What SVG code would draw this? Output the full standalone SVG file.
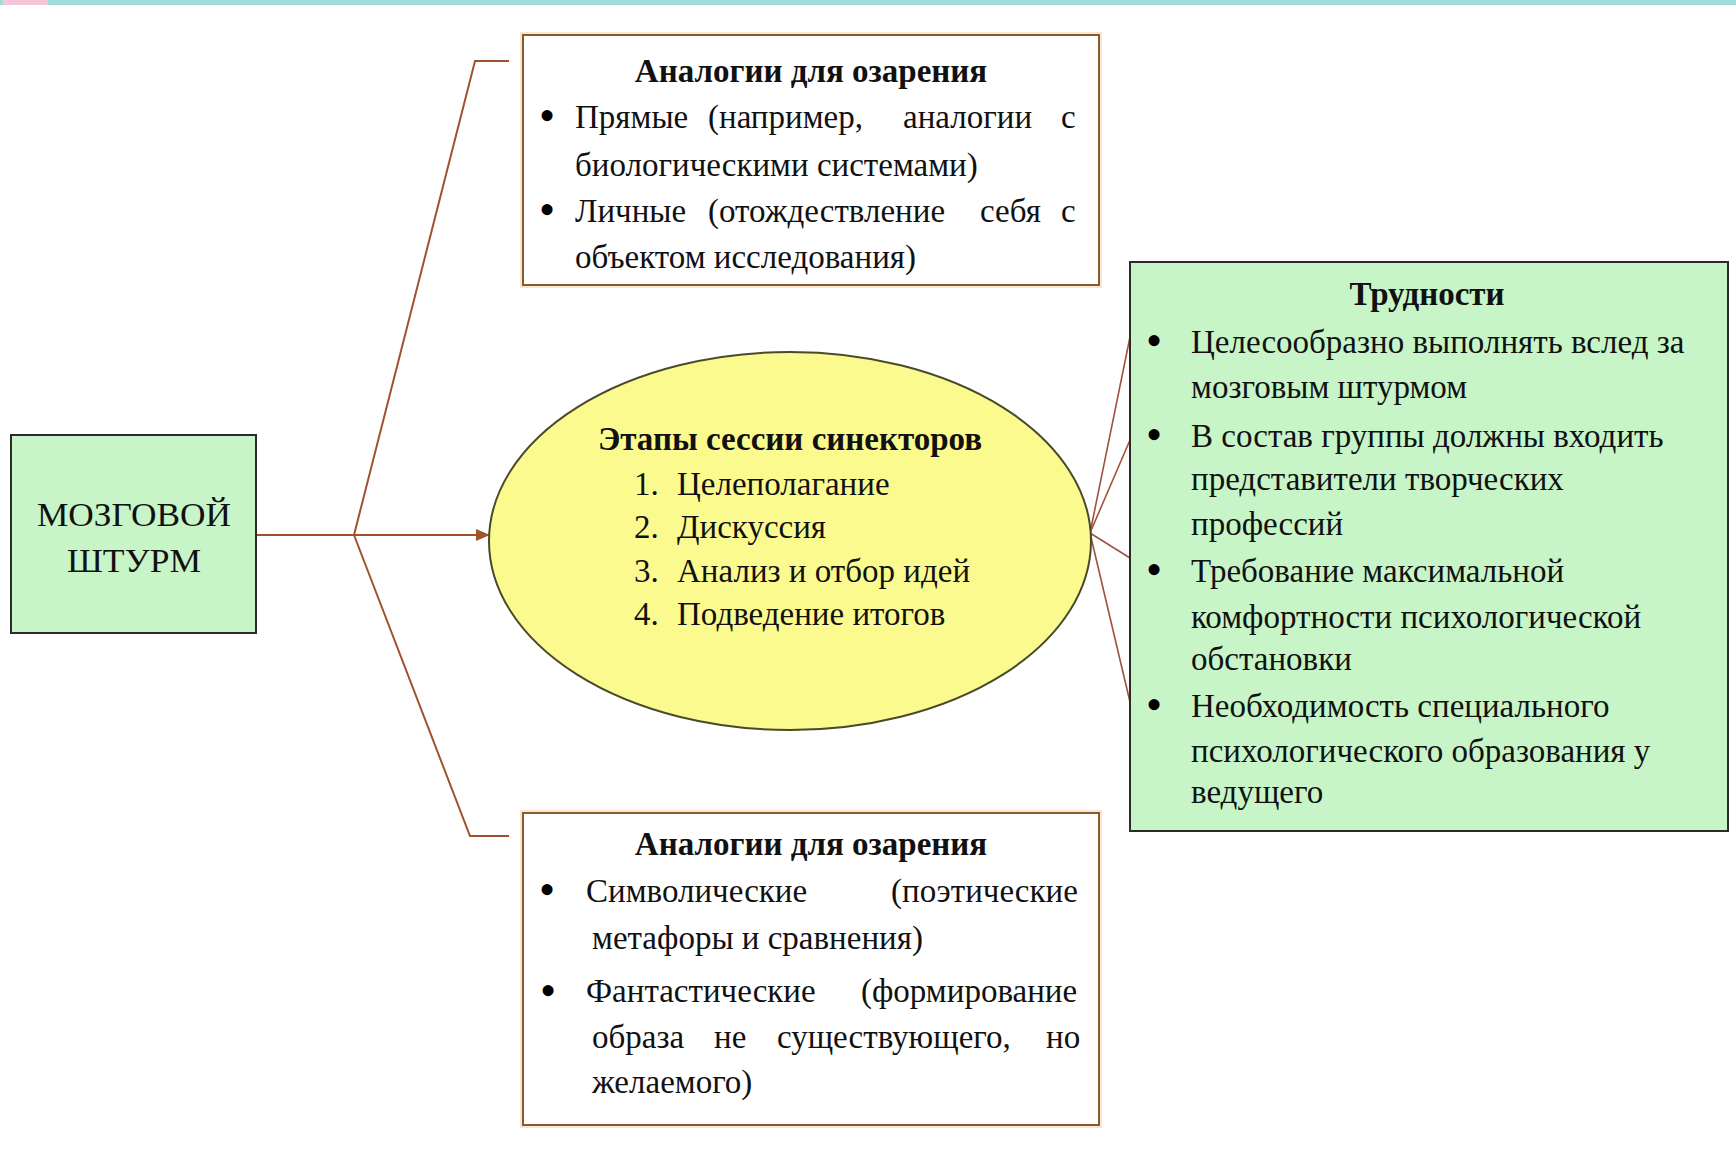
<svg xmlns="http://www.w3.org/2000/svg" width="1736" height="1149" viewBox="0 0 1736 1149">
  <style>
    .t { font-family: "Liberation Serif", "Times New Roman", serif; font-size: 33px; fill: #111; }
    .b { font-weight: bold; }
    .bul { font-family: "Liberation Serif", "Times New Roman", serif; font-size: 46px; fill: #000; }
    .conn { stroke: #a0522d; stroke-width: 2; fill: none; }
    .thin { stroke: #a0523d; stroke-width: 1.6; fill: none; }
    .wbox { fill: #ffffff; stroke: #8b5a2b; stroke-width: 2; }
    .glow { fill: none; stroke: #f8e6d2; stroke-width: 6; }
    .gbox { fill: #c8f5c8; stroke: #2b2b2b; stroke-width: 2; }
  </style>
  <defs>
    <marker id="arr" markerWidth="14" markerHeight="12" refX="13" refY="6" orient="auto" markerUnits="userSpaceOnUse">
      <path d="M0,0 L14,6 L0,12 Z" fill="#a0522d"/>
    </marker>
  </defs>
  <rect x="0" y="0" width="1736" height="1149" fill="#ffffff"/>
  <g id="topstrip">
    <rect x="0" y="0" width="1736" height="5" fill="#9fdcda"/>
    <rect x="3" y="0" width="45" height="5" fill="#f5c6da"/>
  </g>

  <g id="connectors">
    <line class="conn" x1="256" y1="535" x2="489" y2="535" marker-end="url(#arr)"/>
    <polyline class="conn" points="509,61 475,61 354,535"/>
    <polyline class="conn" points="509,836 470,836 354,535"/>
    <line class="thin" x1="1090" y1="533" x2="1130" y2="337"/>
    <line class="thin" x1="1090" y1="533" x2="1130" y2="440"/>
    <line class="thin" x1="1090" y1="533" x2="1130" y2="558"/>
    <line class="thin" x1="1090" y1="533" x2="1130" y2="702"/>
  </g>

  <g id="node-brainstorm">
    <rect class="gbox" x="11" y="435" width="245" height="198"/>
    <text class="t" x="134" y="526" text-anchor="middle" font-size="44" textLength="194" lengthAdjust="spacingAndGlyphs">МОЗГОВОЙ</text>
    <text class="t" x="134" y="572" text-anchor="middle" font-size="44" textLength="134" lengthAdjust="spacingAndGlyphs">ШТУРМ</text>
  </g>

  <g id="node-analogies-top">
    <rect class="glow" x="523" y="35" width="576" height="250"/>
    <rect class="wbox" x="523" y="35" width="576" height="250"/>
    <text class="t b" x="811" y="82" text-anchor="middle">Аналогии для озарения</text>
    <text class="bul" x="539" y="131">•</text>
    <text class="t" y="128"><tspan x="575">Прямые</tspan><tspan x="708">(например,</tspan><tspan x="903">аналогии</tspan><tspan x="1061">с</tspan></text>
    <text class="t" x="575" y="176">биологическими системами)</text>
    <text class="bul" x="539" y="225">•</text>
    <text class="t" y="222"><tspan x="575">Личные</tspan><tspan x="708">(отождествление</tspan><tspan x="980">себя</tspan><tspan x="1061">с</tspan></text>
    <text class="t" x="575" y="268">объектом исследования)</text>
  </g>

  <g id="node-stages">
    <ellipse cx="790" cy="541" rx="301" ry="189" fill="#fbfa8e" stroke="#4a4a2a" stroke-width="2"/>
    <text class="t b" x="790" y="450" text-anchor="middle">Этапы сессии синекторов</text>
    <text class="t" x="634" y="495">1.</text><text class="t" x="677" y="495">Целеполагание</text>
    <text class="t" x="634" y="538">2.</text><text class="t" x="677" y="538">Дискуссия</text>
    <text class="t" x="634" y="582">3.</text><text class="t" x="677" y="582">Анализ и отбор идей</text>
    <text class="t" x="634" y="625">4.</text><text class="t" x="677" y="625">Подведение итогов</text>
  </g>

  <g id="node-difficulties">
    <rect class="gbox" x="1130" y="262" width="598" height="569"/>
    <text class="t b" x="1427" y="305" text-anchor="middle">Трудности</text>
    <text class="bul" x="1146" y="356">•</text>
    <text class="t" x="1191" y="353">Целесообразно выполнять вслед за</text>
    <text class="t" x="1191" y="398">мозговым штурмом</text>
    <text class="bul" x="1146" y="450">•</text>
    <text class="t" x="1191" y="447">В состав группы должны входить</text>
    <text class="t" x="1191" y="490">представители творческих</text>
    <text class="t" x="1191" y="535">профессий</text>
    <text class="bul" x="1146" y="585">•</text>
    <text class="t" x="1191" y="582">Требование максимальной</text>
    <text class="t" x="1191" y="628">комфортности психологической</text>
    <text class="t" x="1191" y="670">обстановки</text>
    <text class="bul" x="1146" y="720">•</text>
    <text class="t" x="1191" y="717">Необходимость специального</text>
    <text class="t" x="1191" y="762">психологического образования у</text>
    <text class="t" x="1191" y="803">ведущего</text>
  </g>

  <g id="node-analogies-bottom">
    <rect class="glow" x="523" y="813" width="576" height="312"/>
    <rect class="wbox" x="523" y="813" width="576" height="312"/>
    <text class="t b" x="811" y="855" text-anchor="middle">Аналогии для озарения</text>
    <text class="bul" x="539" y="905">•</text>
    <text class="t" y="902"><tspan x="586">Символические</tspan><tspan x="891">(поэтические</tspan></text>
    <text class="t" x="592" y="949">метафоры и сравнения)</text>
    <text class="bul" x="540" y="1006" font-size="52">•</text>
    <text class="t" y="1002"><tspan x="586">Фантастические</tspan><tspan x="861">(формирование</tspan></text>
    <text class="t" y="1048"><tspan x="592">образа</tspan><tspan x="714">не</tspan><tspan x="777">существующего,</tspan><tspan x="1046">но</tspan></text>
    <text class="t" x="592" y="1093">желаемого)</text>
  </g>
</svg>
